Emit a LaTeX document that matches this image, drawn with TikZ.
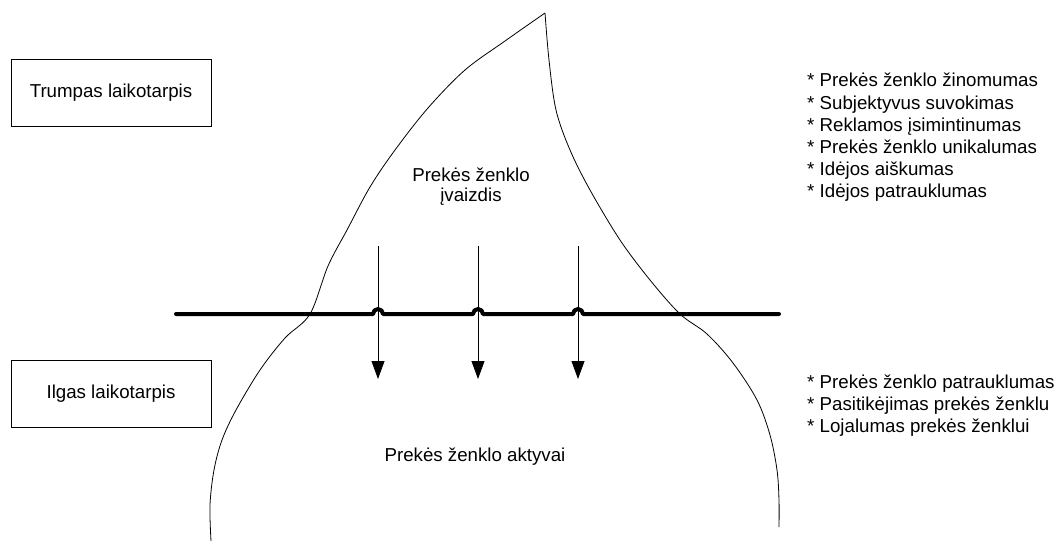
\documentclass[tikz,border=0pt]{standalone}
\usepackage{fontspec}
\setmainfont{Liberation Sans}
\usetikzlibrary{arrows.meta}
\begin{document}
\begin{tikzpicture}[x=1pt,y=-1pt,
  every node/.style={font=\fontsize{18.7}{22}\selectfont, inner sep=0pt},
  labelbox/.style={draw, line width=0.8pt, minimum width=200pt, minimum height=67pt},
  thin line/.style={line width=0.8pt},
  thick line/.style={line width=4pt, line cap=round, line join=round},
  downarrow/.style={line width=0.8pt, -{Triangle[length=18pt,width=13pt]}},
  item/.style={anchor=base west}]
\useasboundingbox (0,0) rectangle (1063,543);

% boxes
\node[labelbox] (short) at (111,92.5) {Trumpas laikotarpis};
\node[labelbox] (long) at (111,394) {Ilgas laikotarpis};

% flame shape
\draw[thin line] plot[smooth, tension=0.55] coordinates {
  (211,541) (210,505) (214,470) (222,440) (236,410) (260,370) (285,338) (310,314)
  (328,266) (347,230) (370,187) (395,150) (428,108) (465,70) (505,41) (545,13)};
\draw[thin line] plot[smooth, tension=0.55] coordinates {
  (545,13) (549,60) (556,110) (570,150) (590,190) (620,240) (650,280) (680,314)
  (707,334) (733,363) (757,400) (770,435) (777,470) (779,500) (779,527)};

% middle texts
\node[align=center] (image1) at (471,175) {Prekės ženklo};
\node (image2) at (471,197) {įvaizdis};
\node (assets) at (475,457) {Prekės ženklo aktyvai};

% thick line with hops
\coordinate (lstart) at (176,314);
\coordinate (lend) at (779,314);
\draw[thick line] (lstart) -- (373,314) arc (180:360:5) -- (473,314) arc (180:360:5)
  -- (573,314) arc (180:360:5) -- (lend);

% arrows
\foreach \i/\x in {1/378,2/478,3/578}{
  \coordinate (as\i) at (\x,246);
  \coordinate (ae\i) at (\x,379);
  \draw[downarrow] (as\i) -- (ae\i);
}

% right lists
\node[item] (u1) at (807,87) {* Prekės ženklo žinomumas};
\node[item] (u2) at (807,109) {* Subjektyvus suvokimas};
\node[item] (u3) at (807,131) {* Reklamos įsimintinumas};
\node[item] (u4) at (807,153) {* Prekės ženklo unikalumas};
\node[item] (u5) at (807,175) {* Idėjos aiškumas};
\node[item] (u6) at (807,197) {* Idėjos patrauklumas};

\node[item] (d1) at (807,388) {* Prekės ženklo patrauklumas};
\node[item] (d2) at (807,410) {* Pasitikėjimas prekės ženklu};
\node[item] (d3) at (807,432) {* Lojalumas prekės ženklui};
\end{tikzpicture}
\end{document}
